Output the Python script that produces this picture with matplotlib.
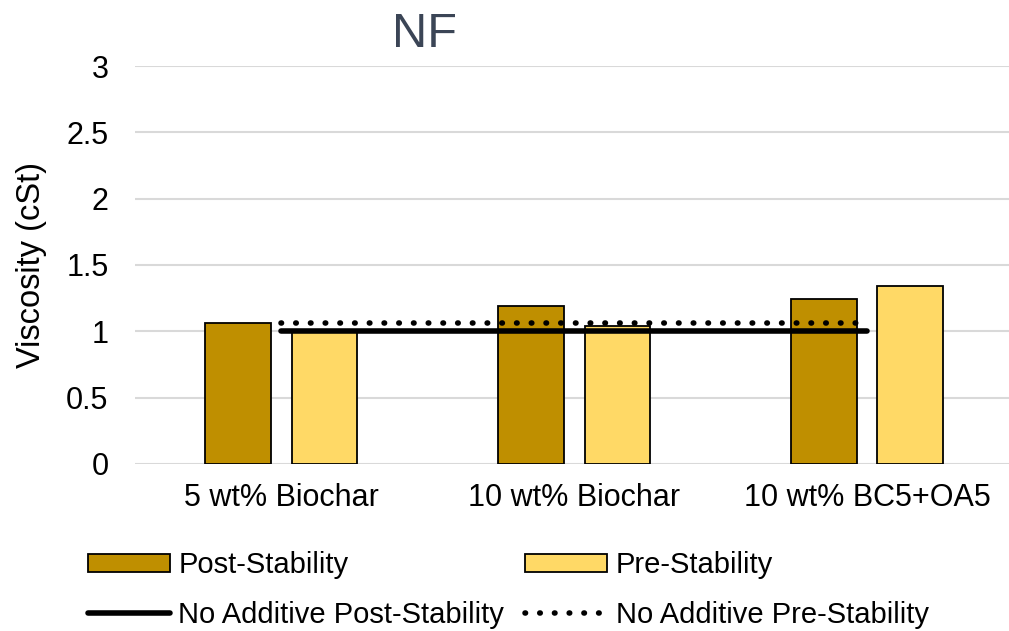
import matplotlib.pyplot as plt
import numpy as np

plt.rcParams['font.family'] = ['Liberation Sans', 'DejaVu Sans']

categories = ['5 wt% Biochar', '10 wt% Biochar', '10 wt% BC5+OA5']
post_stability = [1.06, 1.19, 1.24]
pre_stability = [1.00, 1.04, 1.34]
no_additive_post = 1.00
no_additive_pre = 1.06

post_color = '#bf8f00'
pre_color = '#ffd966'

fig = plt.figure(figsize=(10.09, 6.31), dpi=100)
ax = fig.add_axes([0.1338, 0.2647, 0.871, 0.6307])

x = np.arange(len(categories))
w = 0.225
ax.bar(x - 0.147, post_stability, w, color=post_color, edgecolor='black',
       linewidth=1.3, label='Post-Stability', zorder=2)
ax.bar(x + 0.147, pre_stability, w, color=pre_color, edgecolor='black',
       linewidth=1.3, label='Pre-Stability', zorder=2)

ax.plot([x[0], x[-1]], [no_additive_post] * 2, color='black', linewidth=4,
        solid_capstyle='round', label='No Additive Post-Stability', zorder=3)
ax.plot([x[0], x[-1]], [no_additive_pre] * 2, color='black', linewidth=4,
        linestyle=(0, (0.1, 2.55)), dash_capstyle='round',
        label='No Additive Pre-Stability', zorder=3)

ax.set_xlim(-0.5, 2.5)
ax.set_ylim(0, 3)
ax.set_yticks([0, 0.5, 1, 1.5, 2, 2.5, 3])
ax.set_yticklabels(['0', '0.5', '1', '1.5', '2', '2.5', '3'])
ax.set_xticks(x)
ax.set_xticklabels(categories)
ax.tick_params(axis='both', length=0, labelsize=22)
ax.tick_params(axis='y', pad=19)
ax.tick_params(axis='x', pad=14)
ax.grid(axis='y', color='#d9d9d9', linewidth=1.5, zorder=0)
ax.set_axisbelow(True)
for s in ax.spines.values():
    s.set_visible(False)

ax.set_ylabel('Viscosity (cSt)', fontsize=23.5)
ax.yaxis.set_label_coords(-0.100, 0.5)
fig.text(0.421, 0.9255, 'NF', fontsize=35, color='#3b4556', ha='center', va='baseline')

handles, labels = ax.get_legend_handles_labels()
by_label = dict(zip(labels, handles))
order = ['Post-Stability', 'No Additive Post-Stability', 'Pre-Stability', 'No Additive Pre-Stability']
fig.legend([by_label[k] for k in order], order, ncol=2, loc='center left',
           bbox_to_anchor=(88 / 1009, 1 - 590 / 631), borderaxespad=0, borderpad=0,
           frameon=False, fontsize=21,
           handlelength=2.8, handleheight=0.55, handletextpad=0.3,
           columnspacing=0.72, labelspacing=0.75)

plt.savefig('out.png', dpi=100)
